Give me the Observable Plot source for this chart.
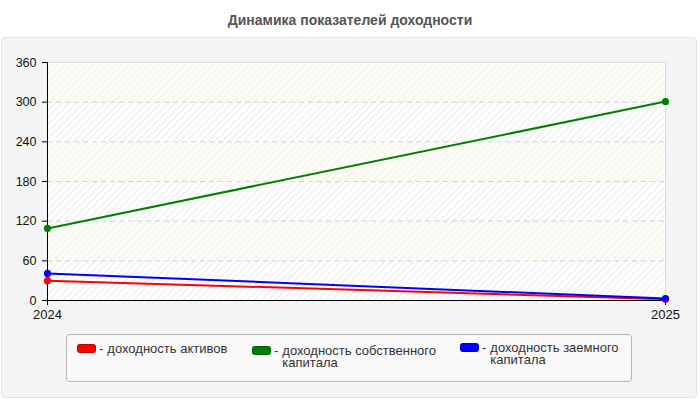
<!DOCTYPE html>
<html>
<head>
<meta charset="utf-8">
<script src="https://cdn.jsdelivr.net/npm/d3@7"></script>
<script src="https://cdn.jsdelivr.net/npm/@observablehq/plot@0.6"></script>
<style>
  html, body { margin: 0; padding: 0; background: #fff; }
  body { width: 700px; height: 400px; position: relative; overflow: hidden; font-family: "Liberation Sans", Arial, sans-serif; }
  #title { position: absolute; left: 0; top: 12px; width: 700px; text-align: center; font-weight: bold; font-size: 14px; color: #555; }
  #panel { position: absolute; left: 1px; top: 37px; width: 694px; height: 359px; background: #f4f4f4; border: 1px solid #e2e2e2; border-radius: 4px; }
  #chart { position: absolute; left: 0; top: 37px; }
  #legend { position: absolute; left: 66px; top: 334px; width: 566px; height: 48px; background: #f9f9f9; border: 1px solid #b4b4b4; border-radius: 4px; box-sizing: border-box; }
  .item { position: absolute; display: flex; align-items: flex-start; font-size: 13px; color: #333; line-height: 12px; }
  .sw { width: 17px; height: 7px; border-radius: 3px; margin-top: 1px; margin-right: 3px; border: 1px solid rgba(0,0,0,0.25); }
  .dash { margin-right: 4px; }
</style>
</head>
<body>
<div id="title">Динамика показателей доходности</div>
<div id="panel"></div>
<div id="chart"></div>
<div id="legend"></div>
<script>
// ---- data ----
const years = [2024, 2025];
const returnOnAssets = [30, 2];    // доходность активов
const returnOnEquity = [109, 301]; // доходность собственного капитала
const returnOnDebt = [41, 3];      // доходность заемного капитала
const seriesNames = ["доходность активов", "доходность собственного капитала", "доходность заемного капитала"];
const seriesColors = ["#ff0000", "#008000", "#0000ff"];
const yTicks = [0, 60, 120, 180, 240, 300, 360];

const seriesValues = [returnOnAssets, returnOnEquity, returnOnDebt];
const rows = [];
seriesNames.forEach((name, s) => {
  years.forEach((year, i) => rows.push({series: name, year, value: seriesValues[s][i], color: seriesColors[s]}));
});
const bands = yTicks.slice(0, -1).map((t, i) => ({y1: t, y2: yTicks[i + 1], fill: i % 2 === 0 ? "url(#hatchA)" : "url(#hatchB)"}));

const chart = Plot.plot({
  width: 700,
  height: 290,
  marginLeft: 47,
  marginRight: 35,
  marginTop: 25,
  marginBottom: 27,
  style: {background: "transparent", fontFamily: "'Liberation Sans', Arial, sans-serif", overflow: "visible"},
  x: {type: "linear", domain: [years[0], years[years.length - 1]], label: null},
  y: {domain: [yTicks[0], yTicks[yTicks.length - 1]], label: null},
  marks: [
    Plot.rect(bands, {x1: years[0], x2: years[years.length - 1], y1: "y1", y2: "y2", fill: d => d.fill}),
    Plot.gridY(yTicks.slice(1, -1), {stroke: "#d4d4d4", strokeOpacity: 1, strokeDasharray: "5,4"}),
    Plot.frame({stroke: "#dcdcdc"}),
    Plot.ruleX([years[0]], {stroke: "#000"}),
    Plot.ruleY([0], {stroke: "#000"}),
    Plot.axisY(yTicks, {tickSize: 5, tickPadding: 6, fontSize: 12.5, fill: "#111", stroke: "#000", label: null}),
    Plot.axisX(years, {tickSize: 5, tickPadding: 4, fontSize: 13, fill: "#111", stroke: "#000", label: null, tickFormat: d => String(d)}),
    Plot.line(rows, {x: "year", y: "value", z: "series", stroke: "color", strokeWidth: 2}),
    Plot.dot(rows, {x: "year", y: "value", fill: "color", r: 3.6})
  ]
});

const svg = d3.select(chart);
const defs = svg.insert("defs", ":first-child");
const pA = defs.append("pattern").attr("id", "hatchA").attr("patternUnits", "userSpaceOnUse").attr("width", 5).attr("height", 5).attr("patternTransform", "rotate(45)");
pA.append("rect").attr("width", 5).attr("height", 5).attr("fill", "#ffffff");
pA.append("rect").attr("width", 1.3).attr("height", 5).attr("fill", "#eeeeee");
const pB = defs.append("pattern").attr("id", "hatchB").attr("patternUnits", "userSpaceOnUse").attr("width", 5).attr("height", 5).attr("patternTransform", "rotate(45)");
pB.append("rect").attr("width", 5).attr("height", 5).attr("fill", "#fdfdf6");
pB.append("rect").attr("width", 1.3).attr("height", 5).attr("fill", "#f4f4ee");
document.getElementById("chart").appendChild(chart);

// ---- legend ----
const legend = document.getElementById("legend");
const itemPos = [
  {left: 10, top: 8, width: 150},
  {left: 185, top: 10, width: 165},
  {left: 393, top: 7, width: 150}
];
seriesNames.forEach((name, i) => {
  const it = document.createElement("div");
  it.className = "item";
  it.style.left = itemPos[i].left + "px";
  it.style.top = itemPos[i].top + "px";
  const sw = document.createElement("div");
  sw.className = "sw";
  sw.style.background = seriesColors[i];
  const dash = document.createElement("span");
  dash.className = "dash";
  dash.textContent = "-";
  const txt = document.createElement("div");
  txt.style.width = itemPos[i].width + "px";
  txt.textContent = name;
  it.appendChild(sw); it.appendChild(dash); it.appendChild(txt);
  legend.appendChild(it);
});
</script>
</body>
</html>
